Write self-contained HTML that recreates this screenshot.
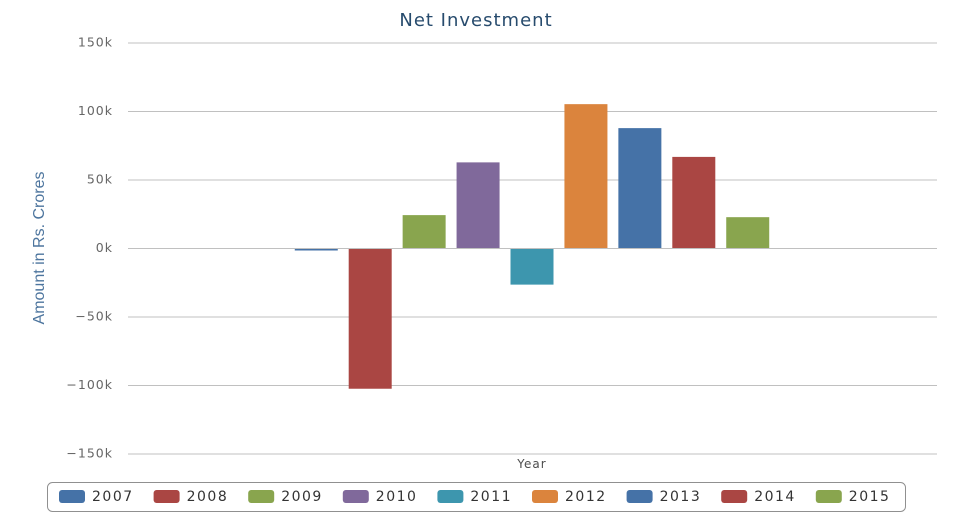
<!DOCTYPE html>
<html><head><meta charset="utf-8"><style>
body{margin:0;background:#fff;}
svg{display:block;font-family:"DejaVu Sans","Liberation Sans",sans-serif;}
</style></head><body>
<svg id="c" width="953" height="528">
<text x="476" y="26" text-anchor="middle" font-size="18" fill="#274b6d" letter-spacing="1">Net Investment</text>
<text transform="translate(44,248) rotate(-90)" text-anchor="middle" font-size="16" fill="#4d759e" font-family="Liberation Sans Narrow, Liberation Sans, sans-serif">Amount in Rs. Crores</text>
<text x="532" y="468" text-anchor="middle" font-size="12" fill="#4d4d4d" letter-spacing="1">Year</text>
<g id="grid"></g><g id="bars"></g>
<rect x="47.5" y="482.5" width="858" height="29" rx="5" fill="none" stroke="#909090"/>
<g id="legend"></g>
</svg>
<script>
const years=["2007","2008","2009","2010","2011","2012","2013","2014","2015"];
const values=[-700,-102000,24000,62500,-26000,105000,87500,66500,22500];
const colors=["#4572a7","#aa4643","#89a54e","#80699b","#3d96ae","#db843d","#4572a7","#aa4643","#89a54e"];
const ticks=[150000,100000,50000,0,-50000,-100000,-150000];
const tickLabels=["150k","100k","50k","0k","\u221250k","\u2212100k","\u2212150k"];
const NS="http://www.w3.org/2000/svg";
const x0=128,x1=937,slots=15,offset=3;
const y=v=>248-v*(205.5/150000);
const slotW=(x1-x0)/slots;
function mk(t,a,p){const e=document.createElementNS(NS,t);for(const k in a)e.setAttribute(k,a[k]);p.appendChild(e);return e;}
const grid=document.getElementById('grid');
ticks.forEach((t,i)=>{
 const l=mk('line',{x1:x0,x2:x1,y1:y(t)+0.5,y2:y(t)+0.5,stroke:'#c0c0c0'},grid);
 
 
 const tx=mk('text',{x:113,y:y(t)+4,'text-anchor':'end','font-size':12.5,fill:'#666','letter-spacing':1},grid);
 tx.textContent=tickLabels[i];
 
 
});
const bars=document.getElementById('bars');
values.forEach((v,i)=>{
 const cx=x0+slotW*(offset+i+0.5);
 const top=Math.min(y(v),y(0)),h=Math.max(1.5,Math.abs(y(v)-y(0)));
 const r=mk('rect',{x:cx-22,y:v<0?top+1:top,width:43,height:h,fill:colors[i]},bars);
 
 
});
const lg=document.getElementById('legend');
years.forEach((yr,i)=>{
 const lx=59+i*94.6;
 const s=mk('rect',{x:lx,y:490,width:26,height:13,rx:3,fill:colors[i]},lg);
 
 
 const t=mk('text',{x:lx+33,y:501,'font-size':14,fill:'#333','letter-spacing':1.5},lg);
 t.textContent=yr;
 
 
});
</script>
</body></html>
